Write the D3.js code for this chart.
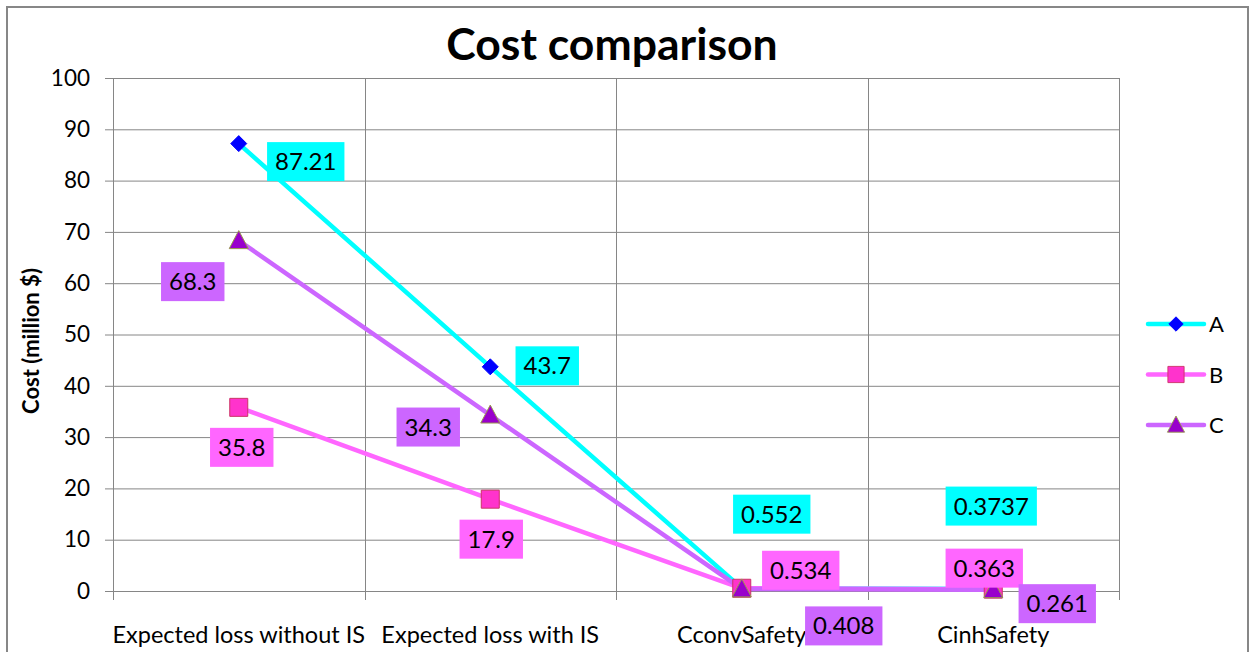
<!DOCTYPE html>
<html><head><meta charset="utf-8">
<script src="https://cdn.jsdelivr.net/npm/d3@7/dist/d3.min.js"></script>
<style>
html,body{margin:0;padding:0;background:#fff;}
svg{display:block;font-family:Lato, "Open Sans", sans-serif;}
</style></head>
<body>
<svg id="chart" width="1254" height="652"></svg>
<script>
// ---- data ----
const categories = ["Expected loss without IS", "Expected loss with IS", "CconvSafety", "CinhSafety"];
const seriesNames = ["A", "B", "C"];
const valuesA = [87.21, 43.7, 0.552, 0.3737];
const valuesB = [35.8, 17.9, 0.534, 0.363];
const valuesC = [68.3, 34.3, 0.408, 0.261];
const labelsA = ["87.21", "43.7", "0.552", "0.3737"];
const labelsB = ["35.8", "17.9", "0.534", "0.363"];
const labelsC = ["68.3", "34.3", "0.408", "0.261"];
const yTicks = [0, 10, 20, 30, 40, 50, 60, 70, 80, 90, 100];

// ---- layout (not data) ----
const labelOffsets = {
  A: [[67, 18], [57, -1], [30, -74], [-2, -83]],
  B: [[3, 40], [1, 40], [59, -18], [-9, -21]],
  C: [[-46, 41], [-62, 12], [102, 37], [64, 14]]
};
const styles = {
  A: {line: "#00FFFF", fill: "#0000FF", stroke: "#0000FF", box: "#00FFFF", shape: "diamond"},
  B: {line: "#FF66FF", fill: "#FF33CC", stroke: "#CC3366", box: "#FF66FF", shape: "square"},
  C: {line: "#CC66FF", fill: "#9900CC", stroke: "#99994C", box: "#CC66FF", shape: "triangle"}
};

const series = [
  {name: "A", values: valuesA, labels: labelsA},
  {name: "B", values: valuesB, labels: labelsB},
  {name: "C", values: valuesC, labels: labelsC}
];

const svg = d3.select("#chart");
const plot = {left: 113, right: 1119, top: 78, bottom: 591};

// outer border
svg.append("rect").attr("x", 7).attr("y", 7).attr("width", 1241).attr("height", 660)
  .attr("fill", "#fff").attr("stroke", "#878787").attr("stroke-width", 2);

const x = d3.scaleBand().domain(categories).range([plot.left, plot.right]).padding(0);
const y = d3.scaleLinear().domain([0, 100]).range([plot.bottom, plot.top]);
const cx = c => x(c) + x.bandwidth() / 2;

// horizontal gridlines + y axis
const yAxis = d3.axisLeft(y).tickValues(yTicks).tickSize(8).tickPadding(15);
const gy = svg.append("g").attr("transform", `translate(${plot.left},0)`).call(yAxis);
gy.select(".domain").attr("stroke", "#868686");
gy.selectAll(".tick line").attr("stroke", "#868686");
gy.selectAll(".tick text").attr("font-size", 22.5).attr("fill", "#000").attr("font-family", "Lato");
gy.selectAll(".tick").append("line").attr("x1", 0).attr("x2", plot.right - plot.left)
  .attr("stroke", "#868686").attr("stroke-width", 1);

// vertical gridlines
const bounds = categories.map(c => x(c)).concat([plot.right]);
svg.append("g").selectAll("line").data(bounds).join("line")
  .attr("x1", d => Math.round(d) + 0.5).attr("x2", d => Math.round(d) + 0.5)
  .attr("y1", plot.top).attr("y2", plot.bottom + 9)
  .attr("stroke", "#868686").attr("stroke-width", 1);

// x category labels
svg.append("g").selectAll("text").data(categories).join("text")
  .attr("x", d => cx(d)).attr("y", 643).attr("text-anchor", "middle")
  .attr("font-size", 23.5).attr("fill", "#000").text(d => d);

// title
svg.append("text").attr("x", 612).attr("y", 60).attr("text-anchor", "middle")
  .attr("font-size", 44.5).attr("font-weight", "bold").attr("fill", "#000").text("Cost comparison");

// y axis title
svg.append("text").attr("transform", "translate(39,341) rotate(-90)")
  .attr("text-anchor", "middle").attr("font-size", 22).attr("font-weight", "bold")
  .attr("fill", "#000").text("Cost (million $)");

// symbols
function symbolPath(shape) {
  if (shape === "diamond") return "M0,-8L8,0L0,8L-8,0Z";
  if (shape === "square") return "M-9,-9H9V9H-9Z";
  return "M0,-10L9.5,8H-9.5Z";
}

// lines
const line = d3.line().x((d, i) => cx(categories[i])).y(d => y(d));
series.forEach(s => {
  svg.append("path").datum(s.values).attr("d", line).attr("fill", "none")
    .attr("stroke", styles[s.name].line).attr("stroke-width", 4.5).attr("stroke-linejoin", "round");
});
// markers
series.forEach(s => {
  const st = styles[s.name];
  svg.append("g").selectAll("path").data(s.values).join("path")
    .attr("transform", (d, i) => `translate(${cx(categories[i])},${y(d)})`)
    .attr("d", symbolPath(st.shape)).attr("fill", st.fill).attr("stroke", st.stroke).attr("stroke-width", 1);
});
// data labels
series.forEach(s => {
  const st = styles[s.name];
  const g = svg.append("g");
  s.values.forEach((v, i) => {
    const px = cx(categories[i]) + labelOffsets[s.name][i][0];
    const py = y(v) + labelOffsets[s.name][i][1];
    const lg = g.append("g").attr("transform", `translate(${px},${py})`);
    const rect = lg.append("rect");
    const t = lg.append("text").attr("text-anchor", "middle").attr("y", 8.5)
      .attr("font-size", 24).attr("fill", "#000").text(s.labels[i]);
    const w = t.node().getComputedTextLength() + 16;
    rect.attr("x", -w / 2).attr("y", -19.5).attr("width", w).attr("height", 39).attr("fill", st.box);
  });
});

// legend
const legendY = d3.scalePoint().domain(seriesNames).range([324, 425]);
const lg = svg.append("g");
seriesNames.forEach(n => {
  const st = styles[n];
  const yy = legendY(n);
  lg.append("line").attr("x1", 1148).attr("x2", 1204).attr("y1", yy).attr("y2", yy)
    .attr("stroke", st.line).attr("stroke-width", 4.5).attr("stroke-linecap", "round");
  lg.append("path").attr("transform", `translate(1176,${yy}) scale(0.9)`).attr("d", symbolPath(st.shape))
    .attr("fill", st.fill).attr("stroke", st.stroke).attr("stroke-width", 1);
  lg.append("text").attr("x", 1209).attr("y", yy + 8).attr("font-size", 22).attr("fill", "#000").text(n);
});
</script>
</body></html>
